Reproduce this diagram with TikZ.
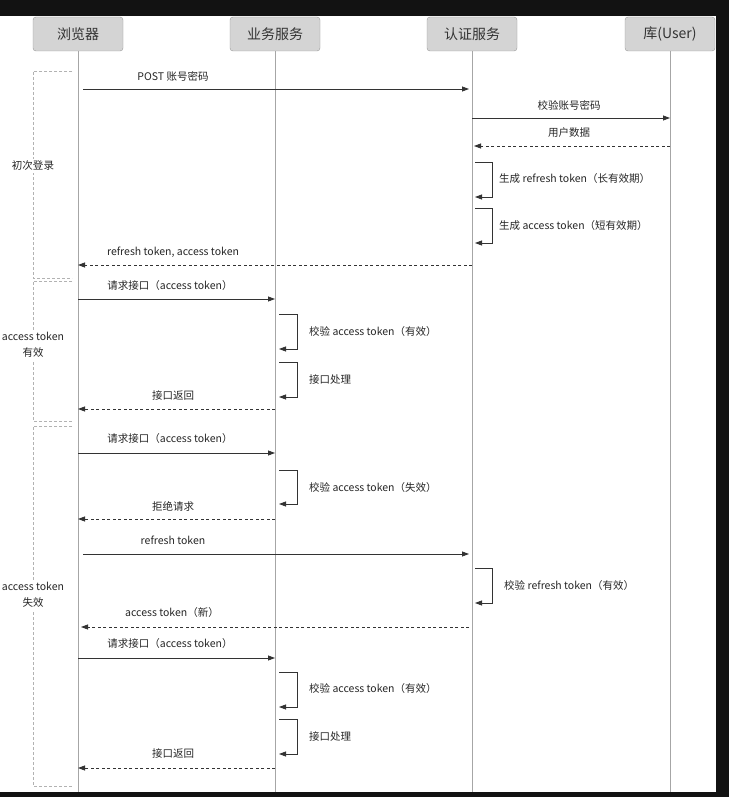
\documentclass[tikz,border=0pt]{standalone}
\usepackage{fontspec}
\setmainfont{Noto Sans CJK SC}
\usetikzlibrary{arrows.meta}
\begin{document}
\begin{tikzpicture}[x=1pt,y=-1pt,
  actor/.style={draw=black!40,fill=black!17,rounded corners=3pt,minimum width=90pt,minimum height=34pt,inner sep=0pt,font=\fontsize{14}{16}\selectfont,text=black!80},
  life/.style={draw=black!35,line width=0.9pt},
  msg/.style={draw=black!80,line width=0.8pt,-{Triangle[length=7pt,width=5pt]}},
  ret/.style={msg,dash pattern=on 3pt off 2.5pt},
  grp/.style={draw=black!30,line width=0.8pt,dash pattern=on 3pt off 2pt},
  lbl/.style={font=\fontsize{10.5}{12}\selectfont,text=black!85,inner sep=1pt},
  glbl/.style={lbl,font=\fontsize{10.5}{16}\selectfont,fill=white,align=center,inner sep=2pt}]
% background and frame
\fill[black!93] (0,0) rectangle (729,797);
\fill[white] (0,16) rectangle (716,792);
\useasboundingbox (0,0) rectangle (729,797);
% participants
\node[actor] (A) at (78,34) {浏览器};
\node[actor] (B) at (275,34) {业务服务};
\node[actor] (C) at (472,34) {认证服务};
\node[actor] (D) at (670,34) {库(User)};
% lifeline ends
\coordinate (end) at (0,792);
\draw[life] (A.south) -- (A |- end);
\draw[life] (B.south) -- (B |- end);
\draw[life] (C.south) -- (C |- end);
\draw[life] (D.south) -- (D |- end);
% groups
\draw[grp] (72,71) -- (33,71) -- (33,278) -- (72,278);
\draw[grp] (72,281) -- (33,281) -- (33,421) -- (72,421);
\draw[grp] (72,426) -- (33,426) -- (33,786) -- (72,786);
\node[glbl] (g1) at (33,166) {初次登录};
\node[glbl] (g2) at (33,345) {access token\\有效};
\node[glbl] (g3) at (33,595) {access token\\失效};
% row coordinates
\coordinate (r1) at (0,89);
\coordinate (r2) at (0,118);
\coordinate (r3) at (0,146);
\coordinate (r6) at (0,265);
\coordinate (r7) at (0,299);
\coordinate (r10) at (0,409);
\coordinate (r11) at (0,453);
\coordinate (r13) at (0,519);
\coordinate (r14) at (0,554);
\coordinate (r16) at (0,627);
\coordinate (r17) at (0,658);
\coordinate (r20) at (0,768);
% messages
\draw[msg] ([xshift=5pt]A |- r1) -- ([xshift=-3pt]C |- r1);
\node[lbl] (l1) at (173,76) {POST 账号密码};
\draw[msg] (C |- r2) -- (D |- r2);
\node[lbl] (l2) at (569,105) {校验账号密码};
\draw[ret] (D |- r3) -- ([xshift=2pt]C |- r3);
\node[lbl] (l3) at (569,133) {用户数据};
% self loops on C
\coordinate (s4) at (0,162);
\draw[msg] ([xshift=3pt]C |- s4) -- ++(17,0) -- ++(0,35) -- ++(-17,0);
\node[lbl,anchor=west] (l4) at (498,179) {生成 refresh token（长有效期）};
\coordinate (s5) at (0,208);
\draw[msg] ([xshift=3pt]C |- s5) -- ++(17,0) -- ++(0,35) -- ++(-17,0);
\node[lbl,anchor=west] (l5) at (498,226) {生成 access token（短有效期）};
\draw[ret] (C |- r6) -- (A |- r6);
\node[lbl] (l6) at (173,252) {refresh token, access token};
% valid token
\draw[msg] (A |- r7) -- (B |- r7);
\node[lbl] (l7) at (170,286) {请求接口（access token）};
\coordinate (s8) at (0,314);
\draw[msg] ([xshift=4pt]B |- s8) -- ++(18,0) -- ++(0,35) -- ++(-18,0);
\node[lbl,anchor=west] (l8) at (308,332) {校验 access token（有效）};
\coordinate (s9) at (0,362);
\draw[msg] ([xshift=4pt]B |- s9) -- ++(18,0) -- ++(0,35) -- ++(-18,0);
\node[lbl,anchor=west] (l9) at (308,380) {接口处理};
\draw[ret] (B |- r10) -- (A |- r10);
\node[lbl] (l10) at (173,396) {接口返回};
% invalid token
\draw[msg] (A |- r11) -- (B |- r11);
\node[lbl] (l11) at (170,439) {请求接口（access token）};
\coordinate (s12) at (0,470);
\draw[msg] ([xshift=4pt]B |- s12) -- ++(18,0) -- ++(0,34) -- ++(-18,0);
\node[lbl,anchor=west] (l12) at (308,488) {校验 access token（失效）};
\draw[ret] (B |- r13) -- (A |- r13);
\node[lbl] (l13) at (173,506) {拒绝请求};
\draw[msg] ([xshift=5pt]A |- r14) -- ([xshift=-3pt]C |- r14);
\node[lbl] (l14) at (173,540) {refresh token};
\coordinate (s15) at (0,568);
\draw[msg] ([xshift=3pt]C |- s15) -- ++(17,0) -- ++(0,35) -- ++(-17,0);
\node[lbl,anchor=west] (l15) at (503,586) {校验 refresh token（有效）};
\draw[ret] ([xshift=-3pt]C |- r16) -- ([xshift=3pt]A |- r16);
\node[lbl] (l16) at (172,613) {access token（新）};
\draw[msg] (A |- r17) -- (B |- r17);
\node[lbl] (l17) at (170,644) {请求接口（access token）};
\coordinate (s18) at (0,672);
\draw[msg] ([xshift=4pt]B |- s18) -- ++(18,0) -- ++(0,35) -- ++(-18,0);
\node[lbl,anchor=west] (l18) at (308,689) {校验 access token（有效）};
\coordinate (s19) at (0,719);
\draw[msg] ([xshift=4pt]B |- s19) -- ++(18,0) -- ++(0,35) -- ++(-18,0);
\node[lbl,anchor=west] (l19) at (308,737) {接口处理};
\draw[ret] (B |- r20) -- (A |- r20);
\node[lbl] (l20) at (173,754) {接口返回};
\end{tikzpicture}
\end{document}
